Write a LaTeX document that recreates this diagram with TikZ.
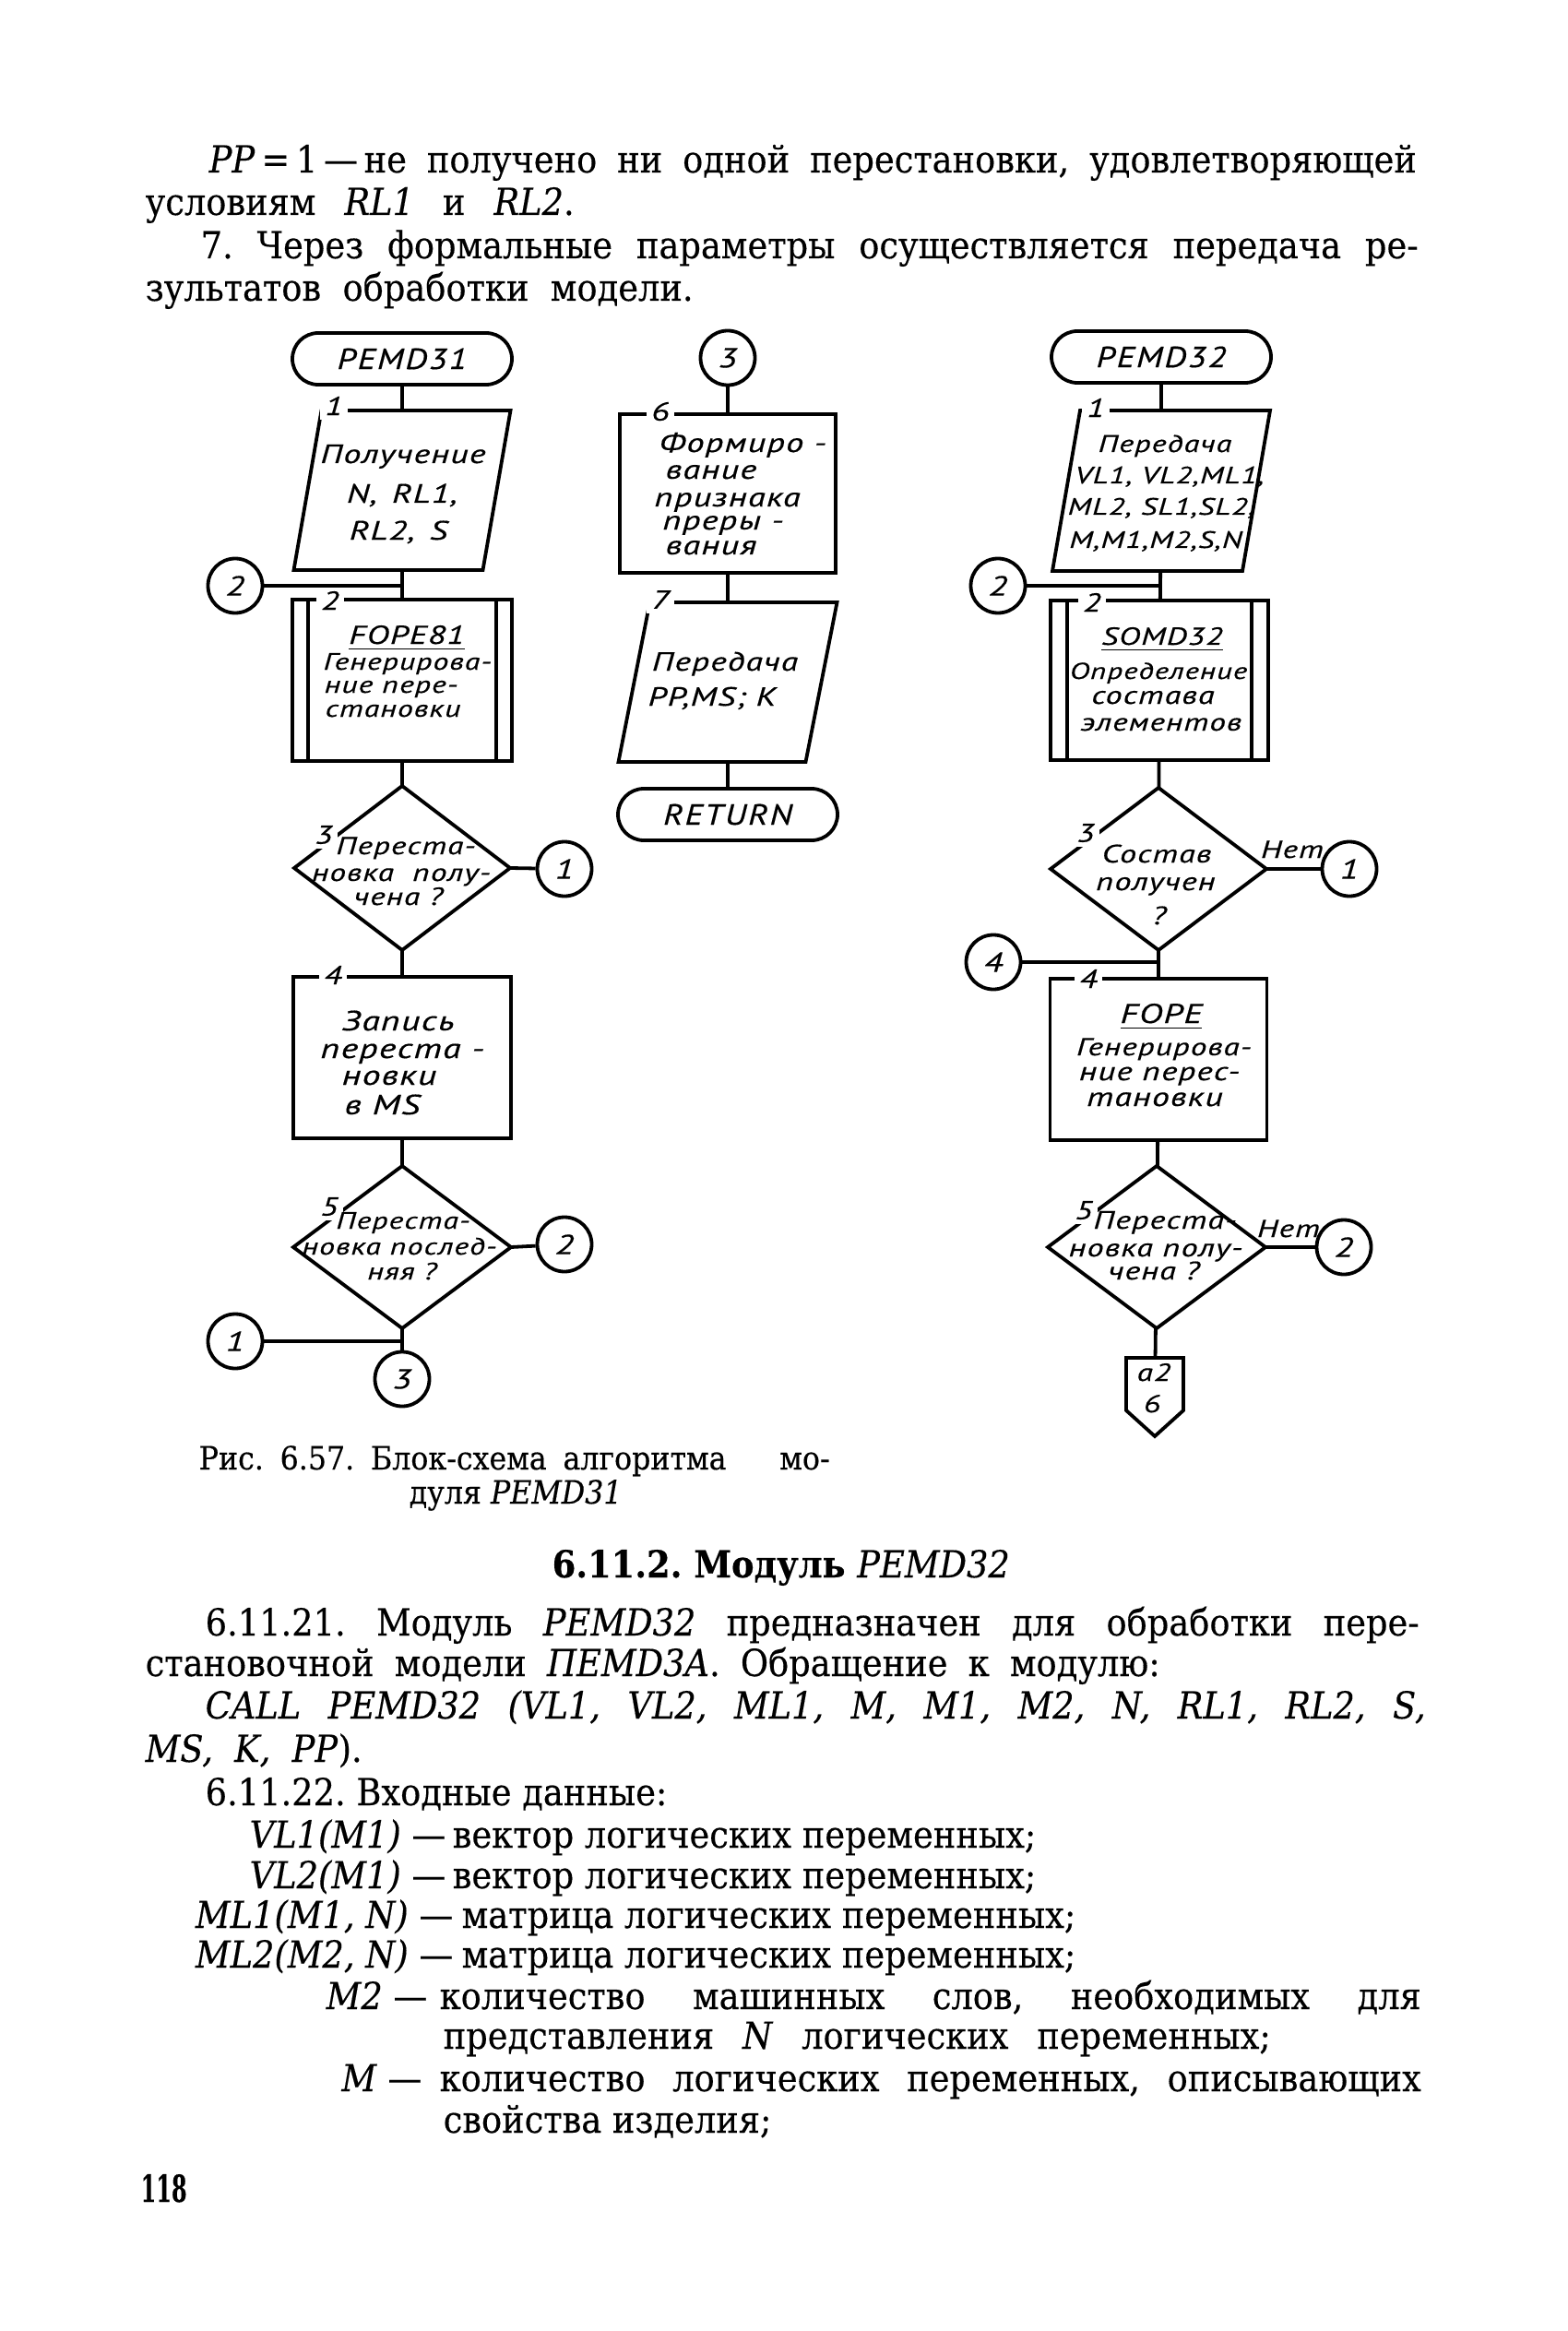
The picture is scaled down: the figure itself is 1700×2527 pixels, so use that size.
\documentclass[tikz,border=0pt]{standalone}
\usepackage{fontspec}
\usepackage{graphicx}
\setmainfont{DejaVu Serif}[FakeStretch=0.91,FakeBold=0.3]
\newfontfamily\gostf{PT Sans}[FakeStretch=1.32,LetterSpace=4,FakeBold=0.4]
\newfontfamily\gostw{PT Sans}[FakeStretch=1.2,LetterSpace=6,FakeBold=0.4]
\newcommand\gs[1]{\gostf\itshape\fontsize{#1}{#1}\selectfont}
\newcommand\gw[1]{\gostw\itshape\fontsize{#1}{#1}\selectfont}
\usetikzlibrary{calc}
\frenchspacing
\tikzset{
  ln/.style={line width=0.38mm},
  term/.style={draw, ln, rectangle, rounded corners=2.8mm, minimum width=23.8mm, minimum height=5.6mm, inner sep=0, font=\gw{9}},
  conn/.style={draw, ln, circle, minimum size=5.9mm, inner sep=0, font=\gs{8.5}},
  shp/.style={rectangle, inner sep=0, outer sep=0},
  pbox/.style={shp, draw, ln},
  num/.style={fill=white, inner sep=0.5mm, font=\gs{8}},
  gl/.style={inner sep=0, anchor=base, font=\gs{#1}},
  gl/.default=8,
  tx/.style={inner sep=0, anchor=base west, font=\fontsize{11.5}{12}\selectfont},
}
\begin{document}
\begin{tikzpicture}[x=0.1mm, y=-0.1mm]
\useasboundingbox[fill=white] (0,0) rectangle (1700,2527);

% ---------- top text ----------
\node[tx] (p1) at (226,187) {\makebox[130.9mm][s]{\textit{PP}\,=\,1\,—\,не получено ни одной перестановки, удовлетворяющей}};
\node[tx] (p2) at (157,233) {\makebox[46.5mm][s]{условиям \textit{RL1} и \textit{RL2}.}};
\node[tx] (p3) at (217,280) {\makebox[132mm][s]{7. Через формальные параметры осуществляется передача ре-}};
\node[tx] (p4) at (157,326) {\makebox[59.4mm][s]{зультатов обработки модели.}};

% ---------- left chart ----------
\node[term] (T1) at (436,389) {PEMD31};
\node[shp, minimum width=20.5mm, minimum height=17.3mm] (b1) at (436,531.5) {};
\draw[ln] ($(b1.north west)+(15,0)$) -- ($(b1.north east)+(15,0)$) -- ($(b1.south east)+(-15,0)$) -- ($(b1.south west)+(-15,0)$) -- cycle;
\node[num] (n1) at (362,440) {1};
\node[gl=8.2] (b1a) at (437,502) {Получение};
\node[gl=8.2] (b1b) at (436,545) {N,\, RL1,};
\node[gl=8.2] (b1c) at (432,585) {RL2,\, S};

\node[conn] (c2a) at (255,635) {2};
\coordinate (j1) at (436,635);

\node[pbox, minimum width=23.8mm, minimum height=17.5mm] (b2) at (436,737.5) {};
\draw[ln] ($(b2.north west)+(17,0)$) -- ($(b2.south west)+(17,0)$);
\draw[ln] ($(b2.north east)+(-17,0)$) -- ($(b2.south east)+(-17,0)$);
\node[num] (n2) at (358,651) {2};
\node[gl=8] (b2a) at (441,698) {\underline{FOPE81}};
\node[gl=7.3, anchor=base west] (b2b) at (350,726) {Генерирова-};
\node[gl=7.3, anchor=base west] (b2c) at (351,751) {ние пере-};
\node[gl=7.3, anchor=base west] (b2d) at (352,777) {становки};

\node[shp, minimum width=23.4mm, minimum height=17.8mm] (d3) at (436,941) {};
\draw[ln] (d3.north) -- (d3.east) -- (d3.south) -- (d3.west) -- cycle;
\node[num] (n3) at (351,905) {3};
\node[gl=7.6] (d3a) at (440,926) {Переста-};
\node[gl=7.6] (d3b) at (435,955) {новка\hspace{1mm} полу-};
\node[gl=7.6] (d3c) at (432,981) {чена ?};
\node[conn] (c1a) at (612,942) {1};

\node[pbox, minimum width=23.6mm, minimum height=17.5mm] (b4) at (436,1146.5) {};
\node[num] (n4) at (361,1057) {4};
\node[gl=8.6, anchor=base west] (b4a) at (370,1117) {Запись};
\node[gl=8.6, anchor=base west] (b4b) at (347,1147) {переста -};
\node[gl=8.6, anchor=base west] (b4c) at (370,1176) {новки};
\node[gl=8.6, anchor=base west] (b4d) at (373,1208) {в MS};

\node[shp, minimum width=23.6mm, minimum height=17.6mm] (d5) at (436,1352) {};
\draw[ln] (d5.north) -- (d5.east) -- (d5.south) -- (d5.west) -- cycle;
\node[num] (n5) at (357,1308) {5};
\node[gl=7.3] (d5a) at (437,1332) {Переста-};
\node[gl=7.3] (d5b) at (433,1360) {новка послед-};
\node[gl=7.3] (d5c) at (436,1387) {няя ?};
\node[conn] (c2b) at (612,1349) {2};
\node[conn] (c1b) at (255,1454) {1};
\coordinate (j2) at (436,1454);
\node[conn] (c3a) at (436,1495) {3};

\draw[ln] (T1) -- (b1);
\draw[ln] (b1) -- (b2);
\draw[ln] (c2a) -- (j1);
\draw[ln] (b2) -- (d3);
\draw[ln] (d3.east) -- (c1a);
\draw[ln] (d3) -- (b4);
\draw[ln] (b4) -- (d5);
\draw[ln] (d5.east) -- (c2b);
\draw[ln] (d5) -- (c3a);
\draw[ln] (c1b) -- (j2);

% ---------- middle chart ----------
\node[conn] (c3b) at (789,388) {3};
\node[pbox, minimum width=23.4mm, minimum height=17.2mm] (b6) at (789,535) {};
\node[num] (n6) at (716,446) {6};
\node[gl=8.3, anchor=base west] (b6a) at (714,490) {Формиро -};
\node[gl=8.3, anchor=base west] (b6b) at (721,519) {вание};
\node[gl=8.3, anchor=base west] (b6c) at (709,549) {признака};
\node[gl=8.3, anchor=base west] (b6d) at (718,574) {преры -};
\node[gl=8.3, anchor=base west] (b6e) at (721,601) {вания};

\node[shp, minimum width=20.3mm, minimum height=17.3mm] (b7) at (789,739.5) {};
\draw[ln] ($(b7.north west)+(17,0)$) -- ($(b7.north east)+(17,0)$) -- ($(b7.south east)+(-17,0)$) -- ($(b7.south west)+(-17,0)$) -- cycle;
\node[num] (n7) at (716,650) {7};
\node[gl=8.1] (b7a) at (786,727) {Передача};
\node[gl=8.1] (b7b) at (772,765) {PP,MS; K};
\node[term] (ret) at (789,883) {RETURN};

\draw[ln] (c3b) -- (b6);
\draw[ln] (b6) -- (b7);
\draw[ln] (b7) -- (ret);

% ---------- right chart ----------
\node[term] (T2) at (1259,387) {PEMD32};
\node[shp, minimum width=20.6mm, minimum height=17.4mm] (r1) at (1259,532) {};
\draw[ln] ($(r1.north west)+(15,0)$) -- ($(r1.north east)+(15,0)$) -- ($(r1.south east)+(-15,0)$) -- ($(r1.south west)+(-15,0)$) -- cycle;
\node[num] (m1) at (1188,442) {1};
\node[gl=7.4] (r1a) at (1263,490) {Передача};
\node[gl=7.3] (r1b) at (1268,524) {VL1, VL2,ML1,};
\node[gl=7.3] (r1c) at (1259,558) {ML2, SL1,SL2,};
\node[gl=7.3] (r1d) at (1253,594) {M,M1,M2,S,N};

\node[conn] (rc2) at (1082,635) {2};
\coordinate (j3) at (1258,635);

\node[pbox, minimum width=23.6mm, minimum height=17.3mm] (r2) at (1257,737.5) {};
\draw[ln] ($(r2.north west)+(18,0)$) -- ($(r2.south west)+(18,0)$);
\draw[ln] ($(r2.north east)+(-18,0)$) -- ($(r2.south east)+(-18,0)$);
\node[num] (m2) at (1184,653) {2};
\node[gl=7.6] (r2a) at (1260,699) {\underline{SOMD32}};
\node[gl=7.1] (r2b) at (1256,736) {Определение};
\node[gl=7.8] (r2c) at (1250,763) {состава};
\node[gl=7.6] (r2d) at (1259,792) {элементов};

\node[shp, minimum width=23.4mm, minimum height=17.6mm] (rd3) at (1256,942) {};
\draw[ln] (rd3.north) -- (rd3.east) -- (rd3.south) -- (rd3.west) -- cycle;
\node[num] (m3) at (1177,903) {3};
\node[gl=7.8] (rd3a) at (1254,935) {Состав};
\node[gl=7.8] (rd3b) at (1253,965) {получен};
\node[gl=7.8] (rd3c) at (1257,1002) {?};
\node[gl=7.6] (no1) at (1401,930) {Нет};
\node[conn] (rc1) at (1463,942) {1};

\node[conn] (rc4) at (1077,1043) {4};
\coordinate (j4) at (1256,1043);

\node[pbox, minimum width=23.5mm, minimum height=17.5mm] (r4) at (1256,1148.5) {};
\node[num] (m4) at (1180,1061) {4};
\node[gl=8.4] (r4a) at (1259,1109) {\underline{FOPE}};
\node[gl=7.6] (r4b) at (1262,1144) {Генерирова-};
\node[gl=8] (r4c) at (1257,1171) {ние перес-};
\node[gl=8.2] (r4d) at (1252,1199) {тановки};

\node[shp, minimum width=23.6mm, minimum height=17.6mm] (rd5) at (1254,1352) {};
\draw[ln] (rd5.north) -- (rd5.east) -- (rd5.south) -- (rd5.west) -- cycle;
\node[num] (m5) at (1175,1312) {5};
\node[gl=7.8] (rd5a) at (1263,1332) {Переста-};
\node[gl=7.8] (rd5b) at (1253,1362) {новка полу-};
\node[gl=7.8] (rd5c) at (1251,1387) {чена ?};
\node[gl=7.6] (no2) at (1397,1341) {Нет};
\node[conn] (rc2b) at (1457,1352) {2};

\node[shp, minimum width=6.2mm, minimum height=8.5mm] (opc) at (1252,1514.5) {};
\draw[ln] (opc.north west) -- (opc.north east) -- ($(opc.south east)+(0,-28)$) -- (opc.south) -- ($(opc.south west)+(0,-28)$) -- cycle;
\node[gl=7.6] (opa) at (1251,1497) {a2};
\node[gl=7.6] (opb) at (1249,1531) {6};

\draw[ln] (T2) -- (r1);
\draw[ln] (r1) -- (r2);
\draw[ln] (rc2) -- (j3);
\draw[ln] (r2) -- (rd3);
\draw[ln] (rd3.east) -- (rc1);
\draw[ln] (rd3) -- (r4);
\draw[ln] (rc4) -- (j4);
\draw[ln] (r4) -- (rd5);
\draw[ln] (rd5.east) -- (rc2b);
\draw[ln] (rd5) -- (opc);

% ---------- caption and lower text ----------
\node[tx, font=\fontsize{9.9}{10}\selectfont] (cap1) at (215,1593) {\makebox[68.4mm][s]{Рис. 6.57. Блок-схема алгоритма\hspace{4mm} мо-}};
\node[tx, font=\fontsize{9.9}{10}\selectfont] (cap2) at (443,1630) {дуля \textit{PEMD31}};
\node[tx, font=\fontsize{11.5}{12}\selectfont\bfseries] (head) at (598,1710) {6.11.2. Модуль \textit{\mdseries PEMD32}};

\node[tx] (la) at (222,1773) {\makebox[131.6mm][s]{6.11.21. Модуль \textit{PEMD32} предназначен для обработки пере-}};
\node[tx] (lb) at (157,1817) {\makebox[110mm][s]{становочной модели \textit{ПEMD3A}. Обращение к модулю:}};
\node[tx] (lc) at (222,1863) {\makebox[132.3mm][s]{\itshape CALL PEMD32 (VL1, VL2, ML1, M, M1, M2, N, RL1, RL2, S,}};
\node[tx] (ld) at (157,1910) {\makebox[23.5mm][s]{\textit{MS, K, PP}).}};
\node[tx] (le) at (222,1957) {6.11.22. Входные данные:};

\node[tx, anchor=base east] (lf1) at (484,2003) {\textit{VL1(M1)} —};
\node[tx] (lf2) at (490,2003) {вектор логических переменных;};
\node[tx, anchor=base east] (lg1) at (484,2047) {\textit{VL2(M1)} —};
\node[tx] (lg2) at (490,2047) {вектор логических переменных;};
\node[tx, anchor=base east] (lh1) at (492,2090) {\textit{ML1(M1, N)} —};
\node[tx] (lh2) at (500,2090) {матрица логических переменных;};
\node[tx, anchor=base east] (li1) at (492,2133) {\textit{ML2(M2, N)} —};
\node[tx] (li2) at (500,2133) {матрица логических переменных;};
\node[tx, anchor=base east] (lj1) at (464,2178) {\textit{M2} —};
\node[tx] (lj2) at (476,2178) {\makebox[106.4mm][s]{количество машинных слов, необходимых для}};
\node[tx] (lk) at (480,2221) {\makebox[89.7mm][s]{представления \textit{N} логических переменных;}};
\node[tx, anchor=base east] (ll1) at (458,2267) {\textit{M} —};
\node[tx] (ll2) at (476,2267) {\makebox[106.4mm][s]{количество логических переменных, описывающих}};
\node[tx] (lm) at (480,2312) {свойства изделия;};
\node[tx, font=\fontsize{11.5}{12}\selectfont\bfseries] (pg) at (152,2387) {\scalebox{0.65}[1]{118}};
\end{tikzpicture}
\end{document}
